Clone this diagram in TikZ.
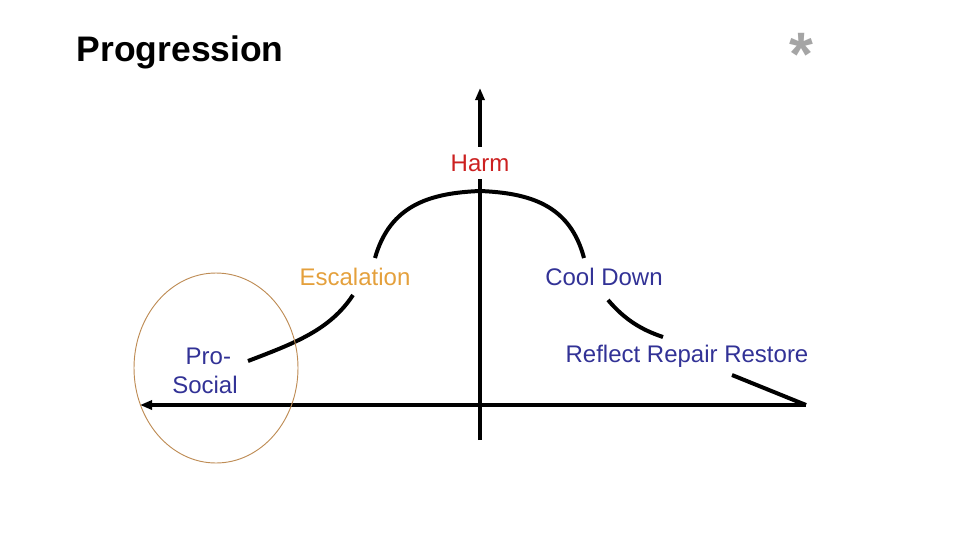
\documentclass[tikz,border=0pt]{standalone}
\usepackage{fontspec}
\setmainfont{Liberation Sans}
\usepackage{xcolor}
\usetikzlibrary{arrows.meta}

\definecolor{harmred}{RGB}{204,32,32}
\definecolor{escorange}{RGB}{228,160,60}
\definecolor{calmblue}{RGB}{50,50,150}
\definecolor{ringbrown}{RGB}{190,140,85}
\definecolor{stargray}{RGB}{165,165,165}

\begin{document}
\begin{tikzpicture}[
    x=0.75pt, y=-0.75pt,
    >={Triangle[length=3.2mm,width=2.4mm]},
    axis/.style={line width=2.6pt,black},
    curve/.style={line width=3pt,black},
    lbl/.style={inner sep=1pt,font=\fontsize{18}{21.6}\selectfont},
  ]
  \useasboundingbox (0,0) rectangle (960,540);

  % --- title and mark ---
  \node[anchor=west,font=\fontsize{26.6}{30}\selectfont\bfseries] (title) at (72,52) {Progression};
  \node[text=stargray,font=\fontsize{46}{46}\selectfont\bfseries] (star) at (801,54) {*};

  % --- axes ---
  \coordinate (vbot) at (480,440);
  \coordinate (vtop) at (480,88);
  \coordinate (hleft) at (140,405);
  \coordinate (hright) at (806,405);
  \draw[axis,->] (vbot) -- (vtop);
  \draw[axis,<-] (hleft) -- (hright);

  % --- labels ---
  \node[lbl,text=harmred,fill=white,inner ysep=6pt] (harm) at (480,163) {Harm};
  \node[lbl,text=escorange] (escal) at (355,277) {Escalation};
  \node[lbl,text=calmblue] (cool) at (604,277) {Cool Down};
  \node[lbl,text=calmblue,align=center] (prosoc) at (205,371) {\ Pro-\\Social};
  \node[lbl,text=calmblue] (rrr) at (687,356) {Reflect Repair Restore};

  % --- bell curve, broken at the labels ---
  \coordinate (c1) at (375,258);
  \coordinate (peak) at (480,191);
  \coordinate (c2) at (584,258);
  \draw[curve] (c1) .. controls (390,205) and (430,193) .. (peak)
                    .. controls (530,193) and (570,205) .. (c2);
  \coordinate (e1) at (353,295);
  \coordinate (e2) at (248,361);
  \draw[curve] (e1) .. controls (330,330) and (295,343) .. (e2);
  \coordinate (d1) at (608,300);
  \coordinate (d2) at (663,337);
  \draw[curve] (d1) .. controls (625,320) and (642,330) .. (d2);
  \coordinate (r1) at (732,375);
  \draw[curve] (r1) -- (hright);

  % --- pro-social ring ---
  \draw[ringbrown,line width=0.7pt] (216,368) ellipse (82 and 95);

\end{tikzpicture}
\end{document}
